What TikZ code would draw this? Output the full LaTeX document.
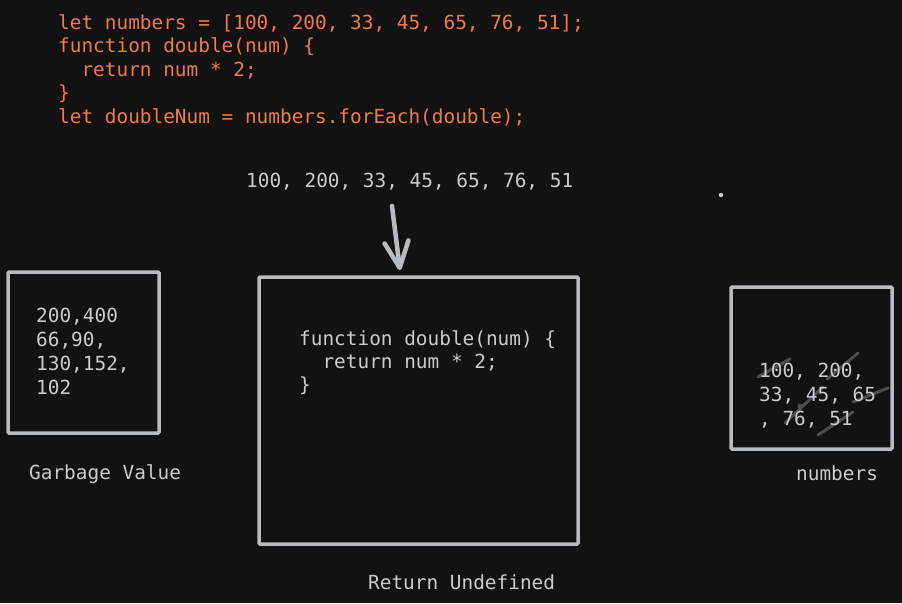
\documentclass[tikz,border=0pt]{standalone}
\usepackage{fontspec}
\setmonofont{DejaVu Sans Mono}
\usetikzlibrary{arrows.meta,positioning}

\definecolor{bgdark}{HTML}{121212}
\definecolor{codeorange}{HTML}{F07A4C}
\definecolor{chalk}{HTML}{C8CCD0}
\definecolor{boxline}{HTML}{B8BCC0}
\definecolor{scribble}{HTML}{4B4D4F}

\tikzset{
  mono/.style={font=\ttfamily\fontsize{19.4}{24}\selectfont, inner sep=0pt, anchor=base west},
  codeline/.style={mono, text=codeorange},
  chalkline/.style={mono, text=chalk},
  sketchbox/.style={draw=boxline, line width=3.5pt, rounded corners=1pt, inner sep=0pt},
  strike/.style={scribble, line width=3pt, line cap=round}
}

\begin{document}
\begin{tikzpicture}[x=1pt, y=-1pt]
        \fill[bgdark] (0,0) rectangle (902,603);
        \useasboundingbox (0,0) rectangle (902,603);
        % the code on top
        \node[codeline] (code1) at (58,29) {let numbers = [100, 200, 33, 45, 65, 76, 51];};
        \node[codeline] (code2) at (58,52.5) {function double(num) \{};
        \node[codeline] (code3) at (58,76) {\hphantom{xx}return num * 2;};
        \node[codeline] (code4) at (58,99.5) {\}};
        \node[codeline] (code5) at (58,123) {let doubleNum = numbers.forEach(double);};
        % input values and the arrow
        \node[chalkline] (inputvals) at (246,187) {100, 200, 33, 45, 65, 76, 51};
        \coordinate (arrtail) at (392,206);
        \coordinate (arrtip) at (400,270);
        \draw[boxline, line width=4.5pt, line cap=round,
          -{Straight Barb[length=26pt, width=24pt, line width=4.5pt, round]}] (arrtail) -- (arrtip);
        \fill[chalk] (721,195) circle (2.2);
        % boxes
        \node[sketchbox, minimum width=151pt, minimum height=161pt] (garbagebox) at (83.5,352.5) {};
        \node[sketchbox, minimum width=319pt, minimum height=267pt] (fnbox) at (418.5,410.5) {};
        \node[sketchbox, minimum width=161pt, minimum height=162pt] (numbox) at (811.5,368) {};
        % left box
        \node[chalkline] (gv1) at (36,322) {200,400};
        \node[chalkline] (gv2) at (36,346) {66,90,};
        \node[chalkline] (gv3) at (36,370) {130,152,};
        \node[chalkline] (gv4) at (36,394) {102};
        \node[chalkline] (garbagelbl) at (29,479) {Garbage Value};
        % middle box
        \node[chalkline] (fn1) at (299,345) {function double(num) \{};
        \node[chalkline] (fn2) at (299,368) {\hphantom{xx}return num * 2;};
        \node[chalkline] (fn3) at (299,391) {\}};
        \node[chalkline] (returnlbl) at (368,589) {Return Undefined};
        % right box, struck through
        \draw[strike] (758,377) -- (790,359);
        \draw[strike] (827,379) -- (858,353);
        \draw[strike] (853,402) -- (888,388);
        \draw[strike] (785,423) -- (823,387);
        \draw[strike] (818,435) -- (853,412);
        \fill[scribble] (800,406) circle (2.5);
        \node[chalkline] (num1) at (759,377) {100, 200,};
        \node[chalkline] (num2) at (759,401) {33, 45, 65};
        \node[chalkline] (num3) at (759,425) {, 76, 51};
        \node[chalkline] (numlbl) at (796,480) {numbers};
      \end{tikzpicture}
\end{document}
